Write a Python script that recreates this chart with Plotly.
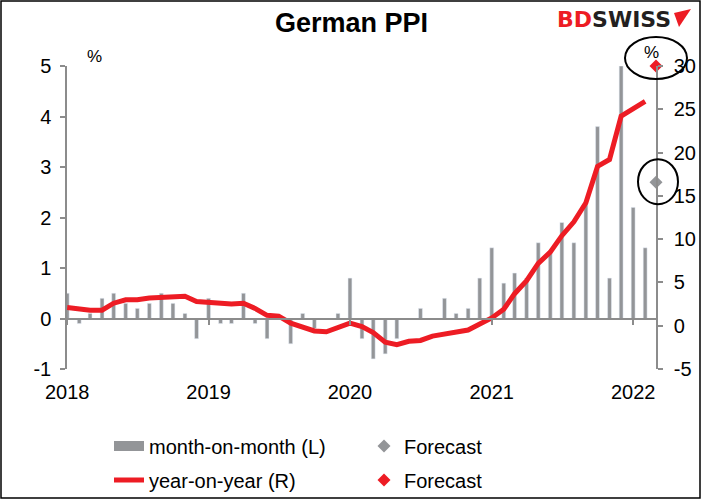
import pandas as pd
import plotly.graph_objects as go

# German PPI, monthly, Jan 2018 - Feb 2022, plus a forecast for Mar 2022
mom = [0.5, -0.1, 0.1, 0.4, 0.5, 0.3, 0.2, 0.3, 0.5, 0.3, 0.1, -0.4,
       0.4, -0.1, -0.1, 0.5, -0.1, -0.4, 0.0, -0.5, 0.1, -0.2, 0.0, 0.1,
       0.8, -0.4, -0.8, -0.7, -0.4, 0.0, 0.2, 0.0, 0.4, 0.1, 0.2, 0.8,
       1.4, 0.7, 0.9, 0.8, 1.5, 1.3, 1.9, 1.5, 2.3, 3.8, 0.8, 5.0,
       2.2, 1.4]
yoy = [2.1, 1.9, 1.8, 1.8, 2.6, 3.0, 3.0, 3.2, 3.3, 3.4, 3.4, 2.8,
       2.7, 2.7, 2.5, 2.6, 2.0, 1.2, 1.1, 0.3, -0.1, -0.6, -0.7, -0.2,
       0.3, -0.1, -0.8, -1.9, -2.2, -1.8, -1.7, -1.2, -1.0, -0.7, -0.5, 0.2,
       0.9, 1.9, 3.7, 5.2, 7.2, 8.5, 10.4, 12.0, 14.2, 18.4, 19.2, 24.2,
       25.0, 25.9]
fc_month = "2022-03-01"
fc_mom = 2.7
fc_yoy = 30.0

left_ticks = [-1, 0, 1, 2, 3, 4, 5]
right_ticks = [-5, 0, 5, 10, 15, 20, 25, 30]

months = pd.date_range("2018-01-01", periods=len(mom), freq="MS")

GREY = "#939598"
RED = "#ED1C24"
AXIS = "#8C8C8C"
FONT = "Liberation Sans, Arial, sans-serif"

W, H = 701, 499
L, R, T, B = 67, 45, 66, 130
pw, ph = W - L - R, H - T - B
Y1 = [left_ticks[0], left_ticks[-1]]
Y2 = [right_ticks[0], right_ticks[-1]]

def px(x): return (x - L) / pw
def py(y): return (H - B - y) / ph

fig = go.Figure()

fig.add_trace(go.Bar(x=months, y=mom, marker_color=GREY, width=10 * 86400000,
                     showlegend=False, yaxis="y"))
# legend glyph for the bars (wide grey strip like the original)
fig.add_trace(go.Scatter(x=[None], y=[None], mode="lines", line=dict(color=GREY, width=10),
                         name="month-on-month (L)", legend="legend"))
fig.add_trace(go.Scatter(x=[fc_month], y=[fc_mom], mode="markers", name="Forecast",
                         marker=dict(symbol="diamond", size=10, color=GREY),
                         cliponaxis=False, legend="legend", yaxis="y"))
fig.add_trace(go.Scatter(x=months, y=yoy, mode="lines", name="year-on-year (R)",
                         line=dict(color=RED, width=5), legend="legend2", yaxis="y2"))
fig.add_trace(go.Scatter(x=[fc_month], y=[fc_yoy], mode="markers", name="Forecast",
                         marker=dict(symbol="diamond", size=10, color=RED),
                         cliponaxis=False, legend="legend2", yaxis="y2"))

axis_style = dict(showline=True, linecolor=AXIS, linewidth=1.5, ticks="outside",
                  tickcolor=AXIS, tickwidth=1.5, showgrid=False, zeroline=False,
                  automargin=False, tickfont=dict(size=20, color="black", family=FONT))

legend_style = dict(orientation="h", xanchor="left", yanchor="middle",
                    xref="container", yref="container",
                    entrywidth=210, entrywidthmode="pixels", bgcolor="rgba(0,0,0,0)",
                    font=dict(size=20, color="black", family=FONT))

fig.update_layout(
    width=W, height=H,
    margin=dict(l=L, r=R, t=T, b=B, autoexpand=False),
    paper_bgcolor="white", plot_bgcolor="white",
    font=dict(family=FONT, size=20, color="black"),
    xaxis=dict(type="date", range=["2017-12-31 12:00", fc_month], anchor="free",
               position=(0 - Y1[0]) / (Y1[1] - Y1[0]), dtick="M12", tick0="2018-01-01",
               tickformat="%Y", ticklen=6, ticklabelstandoff=50, **axis_style),
    yaxis=dict(range=Y1, tickvals=left_ticks, ticktext=[str(v) for v in left_ticks],
               ticklen=5, ticklabelstandoff=5, **axis_style),
    yaxis2=dict(range=Y2, tickvals=right_ticks, ticktext=[str(v) for v in right_ticks],
                overlaying="y", side="right", ticklen=5, ticklabelstandoff=7, **axis_style),
    legend=dict(x=109 / W, y=1 - 446 / H, **legend_style),
    legend2=dict(x=109 / W, y=1 - 480 / H, **legend_style),
)

fig.add_annotation(text="<b>German PPI</b>", x=px(351), y=py(23), xref="paper", yref="paper",
                   showarrow=False, xanchor="center", yanchor="middle",
                   font=dict(size=27, color="black", family=FONT))
fig.add_annotation(text="%", x=px(94), y=py(57), xref="paper", yref="paper",
                   showarrow=False, xanchor="center", yanchor="middle",
                   font=dict(size=17, color="black", family=FONT))
fig.add_annotation(text="%", x=px(651), y=py(52), xref="paper", yref="paper",
                   showarrow=False, xanchor="center", yanchor="middle",
                   font=dict(size=17, color="black", family=FONT))

# logo
fig.add_annotation(text="<b><span style='color:#ED1C24'>BD</span>SWISS</b>", x=px(555), y=py(20),
                   xref="paper", yref="paper", showarrow=False, xanchor="left", yanchor="middle",
                   font=dict(size=22, color="#231F20", family="DejaVu Sans"))
fig.add_shape(type="path", xref="paper", yref="paper", fillcolor=RED, line_width=0,
              path=f"M{px(674)},{py(13)} L{px(691)},{py(9)} L{px(679)},{py(27)} Z")

# circles around the forecasts (forecast month sits on the right edge of the plot)
fy2 = (fc_yoy - Y2[0]) / (Y2[1] - Y2[0])
fy1 = (fc_mom - Y1[0]) / (Y1[1] - Y1[0])
fig.add_shape(type="circle", xref="paper", yref="paper", xsizemode="pixel", ysizemode="pixel",
              xanchor=1, yanchor=fy2, x0=-31, x1=31, y0=-13, y1=29,
              line=dict(color="black", width=2))
fig.add_shape(type="circle", xref="paper", yref="paper", xsizemode="pixel", ysizemode="pixel",
              xanchor=1, yanchor=fy1, x0=-18, x1=22, y0=-22, y1=23,
              line=dict(color="black", width=2))

# outer border
fig.add_shape(type="rect", xref="paper", yref="paper", x0=px(1), x1=px(700), y0=py(498), y1=py(1),
              line=dict(color="black", width=1.5))

fig.write_html("out.html", config={"displayModeBar": False},
               post_script="document.body.style.margin='0px';")
